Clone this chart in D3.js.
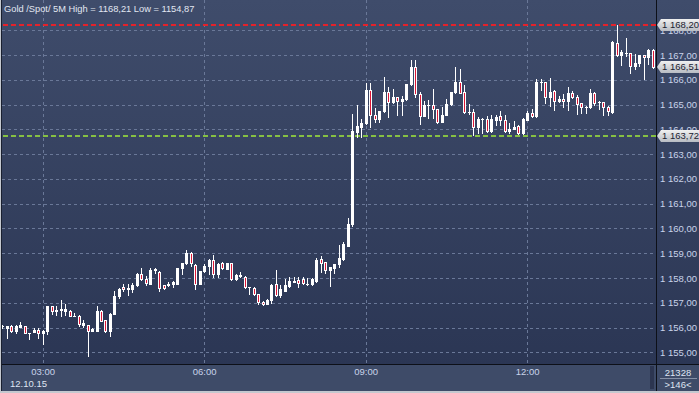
<!DOCTYPE html>
<html>
<head>
<meta charset="utf-8">
<script src="https://d3js.org/d3.v7.min.js"></script>
<style>
  body { margin: 0; background: #2d3856; }
  svg text { font-family: "Liberation Sans", Arial, sans-serif; }
</style>
</head>
<body>
<script>

// 5 minute bars, 02:15 .. 14:20
var opens = [
  1156.05, 1155.98, 1156.07, 1155.84, 1156.04, 1156.07, 1155.78, 1155.81, 1155.89, 1155.76,
  1155.84, 1156.86, 1156.65, 1156.72, 1156.65, 1156.68, 1156.48, 1156.48, 1156.11, 1156.10,
  1155.87, 1155.87, 1156.68, 1156.30, 1155.84, 1156.55, 1157.26, 1157.63, 1157.54, 1157.56,
  1157.70, 1158.17, 1157.94, 1157.77, 1158.31, 1158.25, 1157.70, 1157.70, 1157.74, 1157.77,
  1158.39, 1158.59, 1159.00, 1158.53, 1157.77, 1158.28, 1158.48, 1158.72, 1158.17, 1158.62,
  1158.37, 1158.59, 1157.94, 1158.09, 1158.05, 1157.62, 1157.58, 1157.35, 1157.04, 1156.97,
  1157.13, 1157.74, 1157.31, 1157.48, 1157.69, 1157.85, 1157.92, 1157.94, 1157.75, 1157.74,
  1157.89, 1158.75, 1158.63, 1158.32, 1158.41, 1158.56, 1158.76, 1159.30, 1160.16, 1163.90,
  1164.10, 1164.24, 1165.59, 1164.60, 1164.40, 1164.74, 1165.49, 1165.09, 1165.29, 1165.16,
  1165.21, 1165.82, 1166.50, 1165.41, 1164.55, 1164.98, 1164.98, 1164.81, 1164.30, 1164.59,
  1165.02, 1165.49, 1165.90, 1165.49, 1164.71, 1164.69, 1164.08, 1164.43, 1164.42, 1163.92,
  1164.39, 1164.53, 1164.39, 1163.92, 1164.01, 1164.15, 1163.85, 1164.39, 1164.66, 1164.53,
  1165.91, 1165.90, 1165.29, 1165.56, 1165.13, 1165.23, 1165.13, 1165.47, 1165.29, 1165.06,
  1164.90, 1164.89, 1165.47, 1165.11, 1165.10, 1164.89, 1164.70, 1167.49, 1167.02, 1167.08,
  1167.08, 1166.57, 1166.68, 1166.99, 1166.91, 1167.22
];
var highs = [
  1156.10, 1156.07, 1156.09, 1156.10, 1156.22, 1156.08, 1155.78, 1155.98, 1156.00, 1155.90,
  1156.87, 1156.87, 1156.86, 1157.13, 1156.95, 1156.70, 1156.58, 1156.49, 1156.32, 1156.11,
  1156.00, 1156.88, 1156.69, 1156.32, 1156.60, 1157.47, 1157.60, 1157.74, 1157.74, 1157.81,
  1158.20, 1158.39, 1158.08, 1158.39, 1158.42, 1158.27, 1157.72, 1157.83, 1157.87, 1158.42,
  1158.62, 1159.12, 1159.05, 1158.55, 1158.30, 1158.58, 1158.75, 1158.93, 1158.60, 1158.65,
  1158.60, 1158.60, 1158.15, 1158.25, 1158.07, 1157.65, 1157.62, 1157.36, 1157.06, 1157.15,
  1157.75, 1158.32, 1157.71, 1157.94, 1158.02, 1158.02, 1158.02, 1158.02, 1157.98, 1158.01,
  1158.79, 1158.88, 1158.65, 1158.45, 1158.56, 1159.33, 1159.46, 1160.41, 1164.62, 1164.98,
  1164.40, 1165.86, 1165.88, 1164.85, 1164.76, 1166.13, 1165.72, 1165.61, 1165.31, 1165.34,
  1165.84, 1166.80, 1166.80, 1165.52, 1165.14, 1165.18, 1165.61, 1164.83, 1164.89, 1165.24,
  1165.51, 1166.50, 1166.44, 1165.80, 1165.02, 1164.83, 1164.50, 1164.46, 1164.53, 1164.60,
  1164.59, 1164.73, 1164.59, 1164.26, 1164.32, 1164.17, 1164.45, 1164.73, 1164.82, 1166.03,
  1166.05, 1165.92, 1166.07, 1165.60, 1165.33, 1165.43, 1165.71, 1165.54, 1165.37, 1165.08,
  1164.93, 1165.63, 1165.49, 1165.16, 1165.12, 1164.96, 1167.56, 1168.21, 1167.22, 1167.69,
  1167.10, 1167.04, 1167.02, 1167.02, 1167.24, 1167.24
];
var lows = [
  1155.98, 1155.57, 1155.82, 1155.77, 1156.03, 1155.76, 1155.53, 1155.80, 1155.57, 1155.35,
  1155.73, 1156.56, 1156.49, 1156.45, 1156.52, 1156.46, 1156.46, 1156.07, 1156.02, 1154.87,
  1155.84, 1155.84, 1156.25, 1155.83, 1155.64, 1156.53, 1157.20, 1157.47, 1157.33, 1157.43,
  1157.68, 1157.92, 1157.71, 1157.75, 1158.22, 1157.47, 1157.54, 1157.66, 1157.63, 1157.75,
  1158.15, 1158.57, 1158.48, 1157.54, 1157.75, 1158.26, 1158.17, 1158.04, 1158.04, 1158.38,
  1158.35, 1157.93, 1157.92, 1158.02, 1157.60, 1157.35, 1157.33, 1156.97, 1156.91, 1156.93,
  1157.00, 1157.28, 1157.24, 1157.46, 1157.65, 1157.83, 1157.62, 1157.76, 1157.72, 1157.72,
  1157.82, 1158.25, 1158.21, 1157.69, 1158.21, 1158.45, 1158.74, 1159.28, 1160.10, 1163.70,
  1163.70, 1164.22, 1164.11, 1164.31, 1164.31, 1164.72, 1164.51, 1165.07, 1164.58, 1164.58,
  1165.19, 1165.80, 1165.32, 1164.20, 1164.53, 1164.47, 1164.44, 1164.26, 1164.28, 1164.57,
  1165.00, 1165.47, 1165.45, 1164.67, 1164.62, 1163.78, 1163.85, 1163.85, 1163.90, 1163.90,
  1164.19, 1164.19, 1163.90, 1163.85, 1164.00, 1163.83, 1163.83, 1164.37, 1164.51, 1164.51,
  1165.60, 1165.06, 1164.96, 1164.80, 1165.09, 1164.89, 1164.80, 1165.27, 1164.63, 1164.66,
  1164.66, 1164.87, 1164.99, 1164.83, 1164.59, 1164.59, 1164.68, 1166.95, 1166.61, 1166.95,
  1166.28, 1166.45, 1166.57, 1166.05, 1166.65, 1166.49
];
var closes = [
  1156.06, 1156.07, 1155.84, 1156.08, 1156.11, 1155.77, 1155.77, 1155.89, 1155.76, 1155.87,
  1156.86, 1156.68, 1156.72, 1156.76, 1156.75, 1156.48, 1156.47, 1156.15, 1156.18, 1155.84,
  1155.95, 1156.68, 1156.27, 1155.85, 1156.55, 1157.29, 1157.56, 1157.54, 1157.60, 1157.70,
  1158.17, 1157.94, 1157.81, 1158.31, 1158.35, 1157.60, 1157.60, 1157.77, 1157.83, 1158.39,
  1158.59, 1159.00, 1158.59, 1157.77, 1158.28, 1158.48, 1158.72, 1158.17, 1158.58, 1158.42,
  1158.59, 1157.94, 1158.14, 1158.14, 1157.62, 1157.62, 1157.35, 1157.04, 1156.97, 1157.13,
  1157.71, 1157.31, 1157.54, 1157.71, 1157.87, 1157.87, 1157.81, 1157.78, 1157.74, 1157.96,
  1158.72, 1158.61, 1158.32, 1158.43, 1158.55, 1158.79, 1159.37, 1160.16, 1163.93, 1164.13,
  1164.24, 1165.59, 1164.60, 1164.40, 1164.74, 1165.49, 1165.09, 1165.29, 1165.16, 1165.21,
  1165.82, 1166.50, 1165.41, 1164.55, 1164.98, 1164.99, 1164.81, 1164.30, 1164.59, 1165.02,
  1165.49, 1165.90, 1165.47, 1164.69, 1164.69, 1164.08, 1164.42, 1164.43, 1163.92, 1164.42,
  1164.50, 1164.39, 1163.92, 1164.01, 1164.09, 1163.85, 1164.42, 1164.66, 1164.53, 1165.90,
  1165.90, 1165.29, 1165.49, 1165.13, 1165.23, 1165.13, 1165.47, 1165.29, 1165.02, 1164.89,
  1164.89, 1165.47, 1165.06, 1165.10, 1164.89, 1164.73, 1167.53, 1167.02, 1167.12, 1167.09,
  1166.57, 1166.68, 1166.99, 1166.91, 1167.22, 1166.51
];

var timeTicks = ["03:00", "06:00", "09:00", "12:00"];
var priceTicks = [1155, 1156, 1157, 1158, 1159, 1160, 1161, 1162, 1163, 1164, 1165, 1166, 1167, 1168];
var levels = [
  {value: 1168.20, line: "#e3222b"},
  {value: 1166.51, line: null},
  {value: 1163.72, line: "#86c043"}
];
var title = "Gold /Spot/ 5M High = 1168,21 Low = 1154,87";
var dateLabel = "12.10.15";
var volumeLabel = "21328";
var barsLabel = ">146<";

var width = 699, height = 393,
    plotRight = 657, plotBottom = 364;

var day = new Date(2015, 9, 12);
var start = d3.timeMinute.offset(day, 2 * 60 + 15);
var times = opens.map(function(d, i) { return d3.timeMinute.offset(start, i * 5); });
var parseTick = function(s) {
  var p = s.split(":");
  return d3.timeMinute.offset(day, +p[0] * 60 + +p[1]);
};

var x = d3.scaleTime()
    .domain([start, times[times.length - 1]])
    .range([2.3, 652.8]);

var y = d3.scaleLinear()
    .domain([1155, 1168])
    .range([352.3, 30.3]);

var ru = d3.formatLocale({decimal: ",", thousands: " ", grouping: [3], currency: ["", ""]});
var priceFmt = ru.format(",.2f");

var svg = d3.select("body").append("svg")
    .attr("width", width)
    .attr("height", height)
    .style("display", "block");

var defs = svg.append("defs");
var bg = defs.append("linearGradient")
    .attr("id", "bg").attr("x1", 0).attr("y1", 0).attr("x2", 0).attr("y2", 1);
bg.append("stop").attr("offset", "0%").attr("stop-color", "#3f4c6b");
bg.append("stop").attr("offset", "100%").attr("stop-color", "#2b3654");

var tagGrad = defs.append("linearGradient")
    .attr("id", "tag").attr("x1", 0).attr("y1", 0).attr("x2", 0).attr("y2", 1);
tagGrad.append("stop").attr("offset", "0%").attr("stop-color", "#f0f0f0");
tagGrad.append("stop").attr("offset", "100%").attr("stop-color", "#b8bcc3");

svg.append("rect")
    .attr("width", width)
    .attr("height", plotBottom)
    .attr("fill", "url(#bg)");

// bottom band
svg.append("rect")
    .attr("y", plotBottom)
    .attr("width", width)
    .attr("height", height - plotBottom)
    .attr("fill", "#3e4b68");

// grid
svg.append("g")
    .selectAll("line")
    .data(priceTicks)
  .enter().append("line")
    .attr("x1", 2).attr("x2", plotRight)
    .attr("y1", function(d) { return Math.round(y(d)) + 0.5; })
    .attr("y2", function(d) { return Math.round(y(d)) + 0.5; })
    .attr("stroke", "#6a7898")
    .attr("stroke-dasharray", "3,3");

svg.append("g")
    .selectAll("line")
    .data(timeTicks)
  .enter().append("line")
    .attr("x1", function(d) { return Math.round(x(parseTick(d))) + 0.5; })
    .attr("x2", function(d) { return Math.round(x(parseTick(d))) + 0.5; })
    .attr("y1", 0).attr("y2", plotBottom)
    .attr("stroke", "#6a7898")
    .attr("stroke-dasharray", "3,3");

// level lines
svg.append("g")
    .selectAll("line")
    .data(levels.filter(function(d) { return d.line; }))
  .enter().append("line")
    .attr("x1", 3).attr("x2", plotRight)
    .attr("y1", function(d) { return Math.round(y(d.value)); })
    .attr("y2", function(d) { return Math.round(y(d.value)); })
    .attr("stroke", function(d) { return d.line; })
    .attr("stroke-width", 2)
    .attr("stroke-dasharray", "5,3");

// candles
var bars = d3.range(opens.length).map(function(i) {
  return {t: times[i], o: opens[i], h: highs[i], l: lows[i], c: closes[i]};
});

var candle = svg.append("g")
    .selectAll("g")
    .data(bars)
  .enter().append("g");

candle.append("line")
    .attr("x1", function(d) { return Math.round(x(d.t)) + 0.5; })
    .attr("x2", function(d) { return Math.round(x(d.t)) + 0.5; })
    .attr("y1", function(d) { return Math.round(y(d.h)); })
    .attr("y2", function(d) { return Math.round(y(d.l)) + 1; })
    .attr("stroke", "#ffffff");

candle.append("rect")
    .attr("x", function(d) { return Math.round(x(d.t)) - 1; })
    .attr("width", 3)
    .attr("y", function(d) { return Math.round(y(Math.max(d.o, d.c))); })
    .attr("height", function(d) {
      return Math.max(1, Math.round(y(Math.min(d.o, d.c))) - Math.round(y(Math.max(d.o, d.c))) + 1);
    })
    .attr("fill", "#ffffff");

candle.filter(function(d) { return d.c < d.o; })
  .append("rect")
    .attr("x", function(d) { return Math.round(x(d.t)); })
    .attr("width", 1)
    .attr("y", function(d) { return Math.round(y(d.o)) + 1; })
    .attr("height", function(d) { return Math.max(0, Math.round(y(d.c)) - Math.round(y(d.o)) - 1); })
    .attr("fill", "#dc1636");

// axes
var yAxis = d3.axisRight(y)
    .tickValues(priceTicks)
    .tickFormat(priceFmt)
    .tickSize(0)
    .tickPadding(3);

var gy = svg.append("g")
    .attr("transform", "translate(" + plotRight + ",0)")
    .call(yAxis);
gy.select(".domain").remove();
gy.selectAll("text")
    .attr("fill", "#c9d3ea")
    .style("font-size", "9.5px");

var xAxis = d3.axisBottom(x)
    .tickValues(timeTicks.map(parseTick))
    .tickFormat(d3.timeFormat("%H:%M"))
    .tickSize(0)
    .tickPadding(4);

var gx = svg.append("g")
    .attr("transform", "translate(0," + plotBottom + ")")
    .call(xAxis);
gx.select(".domain").remove();
gx.selectAll("text")
    .attr("fill", "#c9d3ea")
    .style("font-size", "9.5px");

svg.append("text")
    .attr("x", 10)
    .attr("y", 387)
    .attr("fill", "#dfe5f2")
    .style("font-size", "9.5px")
    .text(dateLabel);

// frame lines
svg.append("line")
    .attr("x1", 0).attr("x2", width)
    .attr("y1", plotBottom + 0.5).attr("y2", plotBottom + 0.5)
    .attr("stroke", "#0d1018");
svg.append("line")
    .attr("x1", plotRight - 0.5).attr("x2", plotRight - 0.5)
    .attr("y1", 0).attr("y2", height - 2)
    .attr("stroke", "#0d1018");
svg.append("rect")
    .attr("x", 650).attr("y", 366)
    .attr("width", 4).attr("height", 23)
    .attr("fill", "#2c3550");
svg.append("rect")
    .attr("x", 0).attr("y", height - 2)
    .attr("width", width).attr("height", 2)
    .attr("fill", "#c4c8cf");
svg.append("rect")
    .attr("x", 0).attr("y", 0)
    .attr("width", 1).attr("height", height)
    .attr("fill", "#c4c8cf");
svg.append("rect")
    .attr("x", 1).attr("y", 0)
    .attr("width", 1).attr("height", height - 2)
    .attr("fill", "#1a2030");

// price tags
var tag = svg.append("g")
    .selectAll("g")
    .data(levels)
  .enter().append("g")
    .attr("transform", function(d) { return "translate(0," + Math.round(y(d.value)) + ")"; });

tag.append("path")
    .attr("d", "M" + plotRight + ",0L" + (plotRight + 4) + ",-6H" + width + "V6H" + (plotRight + 4) + "Z")
    .attr("fill", "url(#tag)");

tag.append("text")
    .attr("x", plotRight + 5)
    .attr("dy", "0.35em")
    .attr("fill", "#1c2230")
    .style("font-size", "9.5px")
    .text(function(d) { return priceFmt(d.value); });

// bottom right counters
svg.append("text")
    .attr("x", 678).attr("y", 376)
    .attr("text-anchor", "middle")
    .attr("fill", "#dfe5f2")
    .style("font-size", "9.5px")
    .text(volumeLabel);
svg.append("line")
    .attr("x1", 660).attr("x2", 697)
    .attr("y1", 378.5).attr("y2", 378.5)
    .attr("stroke", "#8590a6");
svg.append("text")
    .attr("x", 678).attr("y", 388)
    .attr("text-anchor", "middle")
    .attr("fill", "#dfe5f2")
    .style("font-size", "9.5px")
    .text(barsLabel);

svg.append("text")
    .attr("x", 4)
    .attr("y", 12)
    .attr("fill", "#e2e7f2")
    .style("font-size", "9.3px")
    .text(title);

</script>
</body>
</html>
